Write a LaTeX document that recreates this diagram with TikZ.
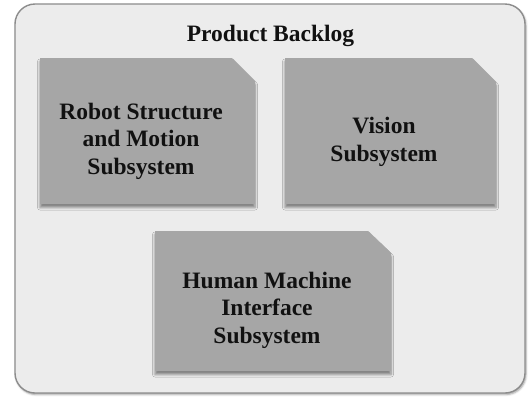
\documentclass[tikz,border=0pt]{standalone}
\usepackage{fontspec}
\setmainfont{Liberation Serif}
\usetikzlibrary{shadows.blur}
\definecolor{panelfill}{HTML}{ECECEC}
\definecolor{panelline}{HTML}{8C8C8C}
\definecolor{cardfill}{HTML}{A6A6A6}
\definecolor{inktext}{HTML}{111111}
\tikzset{
  panel/.style={fill=panelfill, draw=panelline, line width=1.4bp, rounded corners=20bp,
    blur shadow={shadow xshift=1bp, shadow yshift=-1.5bp, shadow blur steps=4, shadow blur radius=2bp, shadow opacity=40}},
  card/.style={fill=cardfill,
    blur shadow={shadow xshift=0bp, shadow yshift=-3.5bp, shadow blur steps=5, shadow blur radius=2.5bp, shadow opacity=45}},
  cardtext/.style={align=center, inner sep=0pt, text=inktext, font=\bfseries\fontsize{23.5bp}{27.5bp}\selectfont},
  titletext/.style={inner sep=0pt, text=inktext, font=\bfseries\fontsize{23.5bp}{27bp}\selectfont, anchor=base}
}
\begin{document}
\begin{tikzpicture}[x=1bp,y=-1bp]
\useasboundingbox (0,0) rectangle (529,396);
% outer panel
\path[panel] (15,4) rectangle (525,393);
\node[titletext] (title) at (270.5,41) {Product Backlog};
% card 1
\path[card] (40,58) -- (232,58) -- (255,81) -- (255,204) -- (40,204) -- cycle;
\node[cardtext] (robot) at (141,141) {Robot Structure\\and Motion\\Subsystem};
% card 2
\path[card] (285,58) -- (472,58) -- (496,82) -- (496,204) -- (285,204) -- cycle;
\node[cardtext] (vision) at (384,142) {Vision\\Subsystem};
% card 3
\path[card] (155,231) -- (368,231) -- (391,253) -- (391,371) -- (155,371) -- cycle;
\node[cardtext] (hmi) at (267,310) {Human Machine\\Interface\\Subsystem};
\end{tikzpicture}
\end{document}
